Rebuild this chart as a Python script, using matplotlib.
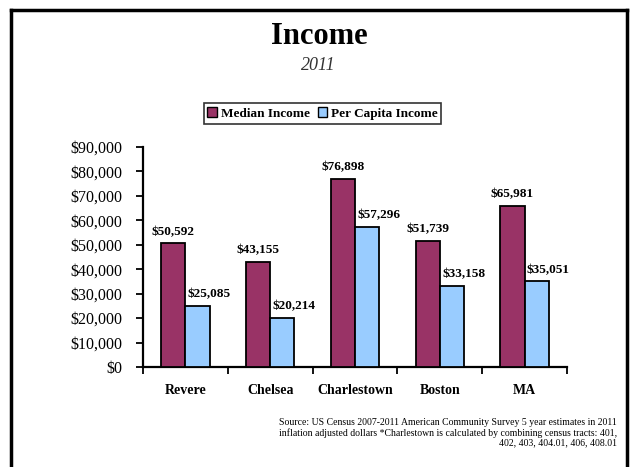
import numpy as np
import matplotlib
matplotlib.use("Agg")
import matplotlib.pyplot as plt
from matplotlib.lines import Line2D
from matplotlib.patches import Patch

# Data
places = ["Revere", "Chelsea", "Charlestown", "Boston", "MA"]
median_income = [50592, 43155, 76898, 51739, 65981]
per_capita_income = [25085, 20214, 57296, 33158, 35051]
y_ticks = [0, 10000, 20000, 30000, 40000, 50000, 60000, 70000, 80000, 90000]
series_names = ["Median Income", "Per Capita Income"]
source_note = ("Source: US Census 2007-2011 American Community Survey 5 year estimates in 2011\n"
               "inflation adjusted dollars *Charlestown is calculated by combining census tracts: 401,\n"
               "402, 403, 404.01, 406, 408.01")

MAROON = "#993366"
SKY = "#99CCFF"

plt.rcParams['font.family'] = ['Liberation Serif', 'DejaVu Serif']

W, H = 630, 467
fig = plt.figure(figsize=(W / 100, H / 100), dpi=100)


def fx(px):
    return px / W


def fy(py):
    return 1 - py / H


# Outer frame (left, top, right edges)
frame_kw = dict(color="black", linewidth=2.5, transform=fig.transFigure,
                solid_capstyle="projecting")
fig.add_artist(Line2D([fx(10.5), fx(10.5)], [fy(9.5), fy(470)], **frame_kw))
fig.add_artist(Line2D([fx(10.5), fx(626.5)], [fy(9.5), fy(9.5)], **frame_kw))
fig.add_artist(Line2D([fx(626.5), fx(626.5)], [fy(9.5), fy(470)], **frame_kw))

# Titles
fig.text(fx(319), fy(37), "Income", ha="center", va="center",
         fontsize=22, fontweight="bold")
fig.text(fx(318), fy(66), "2011", ha="center", va="center",
         fontsize=13, style="italic", color="#333333")

# Plot area
ax = fig.add_axes([fx(143), fy(367), fx(567) - fx(143), fy(147) - fy(367)])
x = np.arange(len(places))
w = 0.285
b1 = ax.bar(x - w / 2, median_income, w, color=MAROON, edgecolor="black",
            linewidth=1.3, zorder=3)
b2 = ax.bar(x + w / 2, per_capita_income, w, color=SKY, edgecolor="black",
            linewidth=1.3, zorder=3)

ax.set_xlim(-0.5, len(places) - 0.5)
ax.set_ylim(0, 90000)

for s in ["top", "right"]:
    ax.spines[s].set_visible(False)
for s in ["left", "bottom"]:
    ax.spines[s].set_linewidth(1.6)

ax.set_yticks(y_ticks)
ax.set_yticklabels([f"${v:,.0f}" for v in y_ticks])
ax.tick_params(axis="y", direction="out", length=5, width=1.3, pad=10,
               labelsize=11.5)

ax.set_xticks(x)
ax.set_xticklabels(places, fontweight="bold")
ax.tick_params(axis="x", which="major", length=0, pad=12, labelsize=10)
ax.set_xticks(np.arange(-0.5, len(places)), minor=True)
ax.tick_params(axis="x", which="minor", direction="out", length=5, width=1.3)

# Value labels
for rect, v in zip(b1, median_income):
    ax.annotate(f"${v:,.0f}", (rect.get_x() + rect.get_width() / 2, v),
                xytext=(0, 4), textcoords="offset points", ha="center",
                va="bottom", fontsize=9.5, fontweight="bold")
for rect, v in zip(b2, per_capita_income):
    ax.annotate(f"${v:,.0f}", (rect.get_x() + rect.get_width() / 2, v),
                xytext=(8.5, 4), textcoords="offset points", ha="center",
                va="bottom", fontsize=9.5, fontweight="bold")

# Legend
handles = [Patch(facecolor=MAROON, edgecolor="black", linewidth=1.0),
           Patch(facecolor=SKY, edgecolor="black", linewidth=1.0)]
leg = fig.legend(handles, series_names, loc="center",
                 bbox_to_anchor=(fx(322.5), fy(113.5)), ncol=2,
                 frameon=True, fancybox=False, edgecolor="black",
                 prop=dict(size=9.5, weight="bold"),
                 handlelength=0.7, handleheight=0.7, handletextpad=0.3,
                 columnspacing=0.6, borderpad=0.3, borderaxespad=0)
leg.get_frame().set_linewidth(1.2)

# Source note
fig.text(fx(617), fy(433), source_note, ha="right", va="center",
         fontsize=7.0, linespacing=1.1)

fig.savefig("out.png", dpi=100, facecolor="white")
